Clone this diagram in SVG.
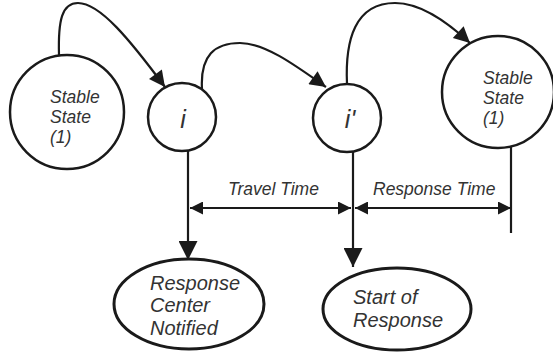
<svg xmlns="http://www.w3.org/2000/svg" width="553" height="360" viewBox="0 0 553 360">
  <style>
    .node { fill: #fff; stroke: #1a1a1a; stroke-width: 2.5; }
    .term { fill: #fff; stroke: #1a1a1a; stroke-width: 3; }
    .edge { fill: none; stroke: #1a1a1a; stroke-width: 2.2; }
    .lbl { font-family: "Liberation Sans", Arial, sans-serif; font-style: italic; fill: #333; }
  </style>
  <defs>
    <marker id="head" viewBox="0 0 10 10" refX="10" refY="5" markerUnits="userSpaceOnUse" markerWidth="22" markerHeight="16" orient="auto">
      <path d="M0,0 L10,5 L0,10 Z" fill="#1a1a1a"/>
    </marker>
    <marker id="headBig" viewBox="0 0 10 10" refX="10" refY="5" markerUnits="userSpaceOnUse" markerWidth="27" markerHeight="19" orient="auto">
      <path d="M0,0 L10,5 L0,10 Z" fill="#1a1a1a"/>
    </marker>
    <marker id="dim" viewBox="0 0 10 10" refX="10" refY="5" markerUnits="userSpaceOnUse" markerWidth="20" markerHeight="13" orient="auto-start-reverse">
      <path d="M0,0 L10,5 L0,10 Z" fill="#1a1a1a"/>
    </marker>
  </defs>

  <!-- connectors -->
  <g id="connectors">
    <path class="edge" d="M59,55 C58,20 62,3 78,3 C100,3 130,40 165,87" marker-end="url(#head)"/>
    <path class="edge" d="M202,89 C200,55 215,43 240,43 C265,43 295,65 326,87" marker-end="url(#head)"/>
    <path class="edge" d="M347,84 C345,40 355,3 395,3 C420,3 445,20 470,43" marker-end="url(#head)"/>
    <path class="edge" d="M188,150 L188,260" marker-end="url(#headBig)"/>
    <path class="edge" d="M353,151 L353,267" marker-end="url(#headBig)"/>
    <path class="edge" d="M511,146 L511,233"/>
    <path class="edge" d="M190,208 L351,208" marker-start="url(#dim)" marker-end="url(#dim)"/>
    <path class="edge" d="M355,208 L511,208" marker-start="url(#dim)" marker-end="url(#dim)"/>
    <text class="lbl" x="228" y="195" font-size="17.5">Travel Time</text>
    <text class="lbl" x="373" y="195" font-size="17.5">Response Time</text>
  </g>

  <g id="stable-left">
    <circle class="node" cx="67" cy="112" r="57"/>
    <text class="lbl" font-size="17.5"><tspan x="50" y="103">Stable</tspan><tspan x="50" y="123">State</tspan><tspan x="50" y="143">(1)</tspan></text>
  </g>

  <g id="state-i">
    <circle class="node" cx="182" cy="117" r="34"/>
    <text class="lbl" x="183" y="128" font-size="25" text-anchor="middle">i</text>
  </g>

  <g id="state-i-prime">
    <circle class="node" cx="347" cy="118" r="34"/>
    <text class="lbl" x="350" y="128" font-size="25" text-anchor="middle">i'</text>
  </g>

  <g id="stable-right">
    <circle class="node" cx="498" cy="92" r="56"/>
    <text class="lbl" font-size="17.5"><tspan x="483" y="84">Stable</tspan><tspan x="483" y="104">State</tspan><tspan x="483" y="124">(1)</tspan></text>
  </g>

  <g id="response-center">
    <ellipse class="term" cx="189" cy="304" rx="75" ry="45"/>
    <text class="lbl" font-size="20"><tspan x="150" y="290">Response</tspan><tspan x="150" y="312">Center</tspan><tspan x="150" y="335">Notified</tspan></text>
  </g>

  <g id="start-of-response">
    <ellipse class="term" cx="397" cy="309" rx="74" ry="41"/>
    <text class="lbl" font-size="20"><tspan x="353" y="304">Start of</tspan><tspan x="353" y="327">Response</tspan></text>
  </g>
</svg>
